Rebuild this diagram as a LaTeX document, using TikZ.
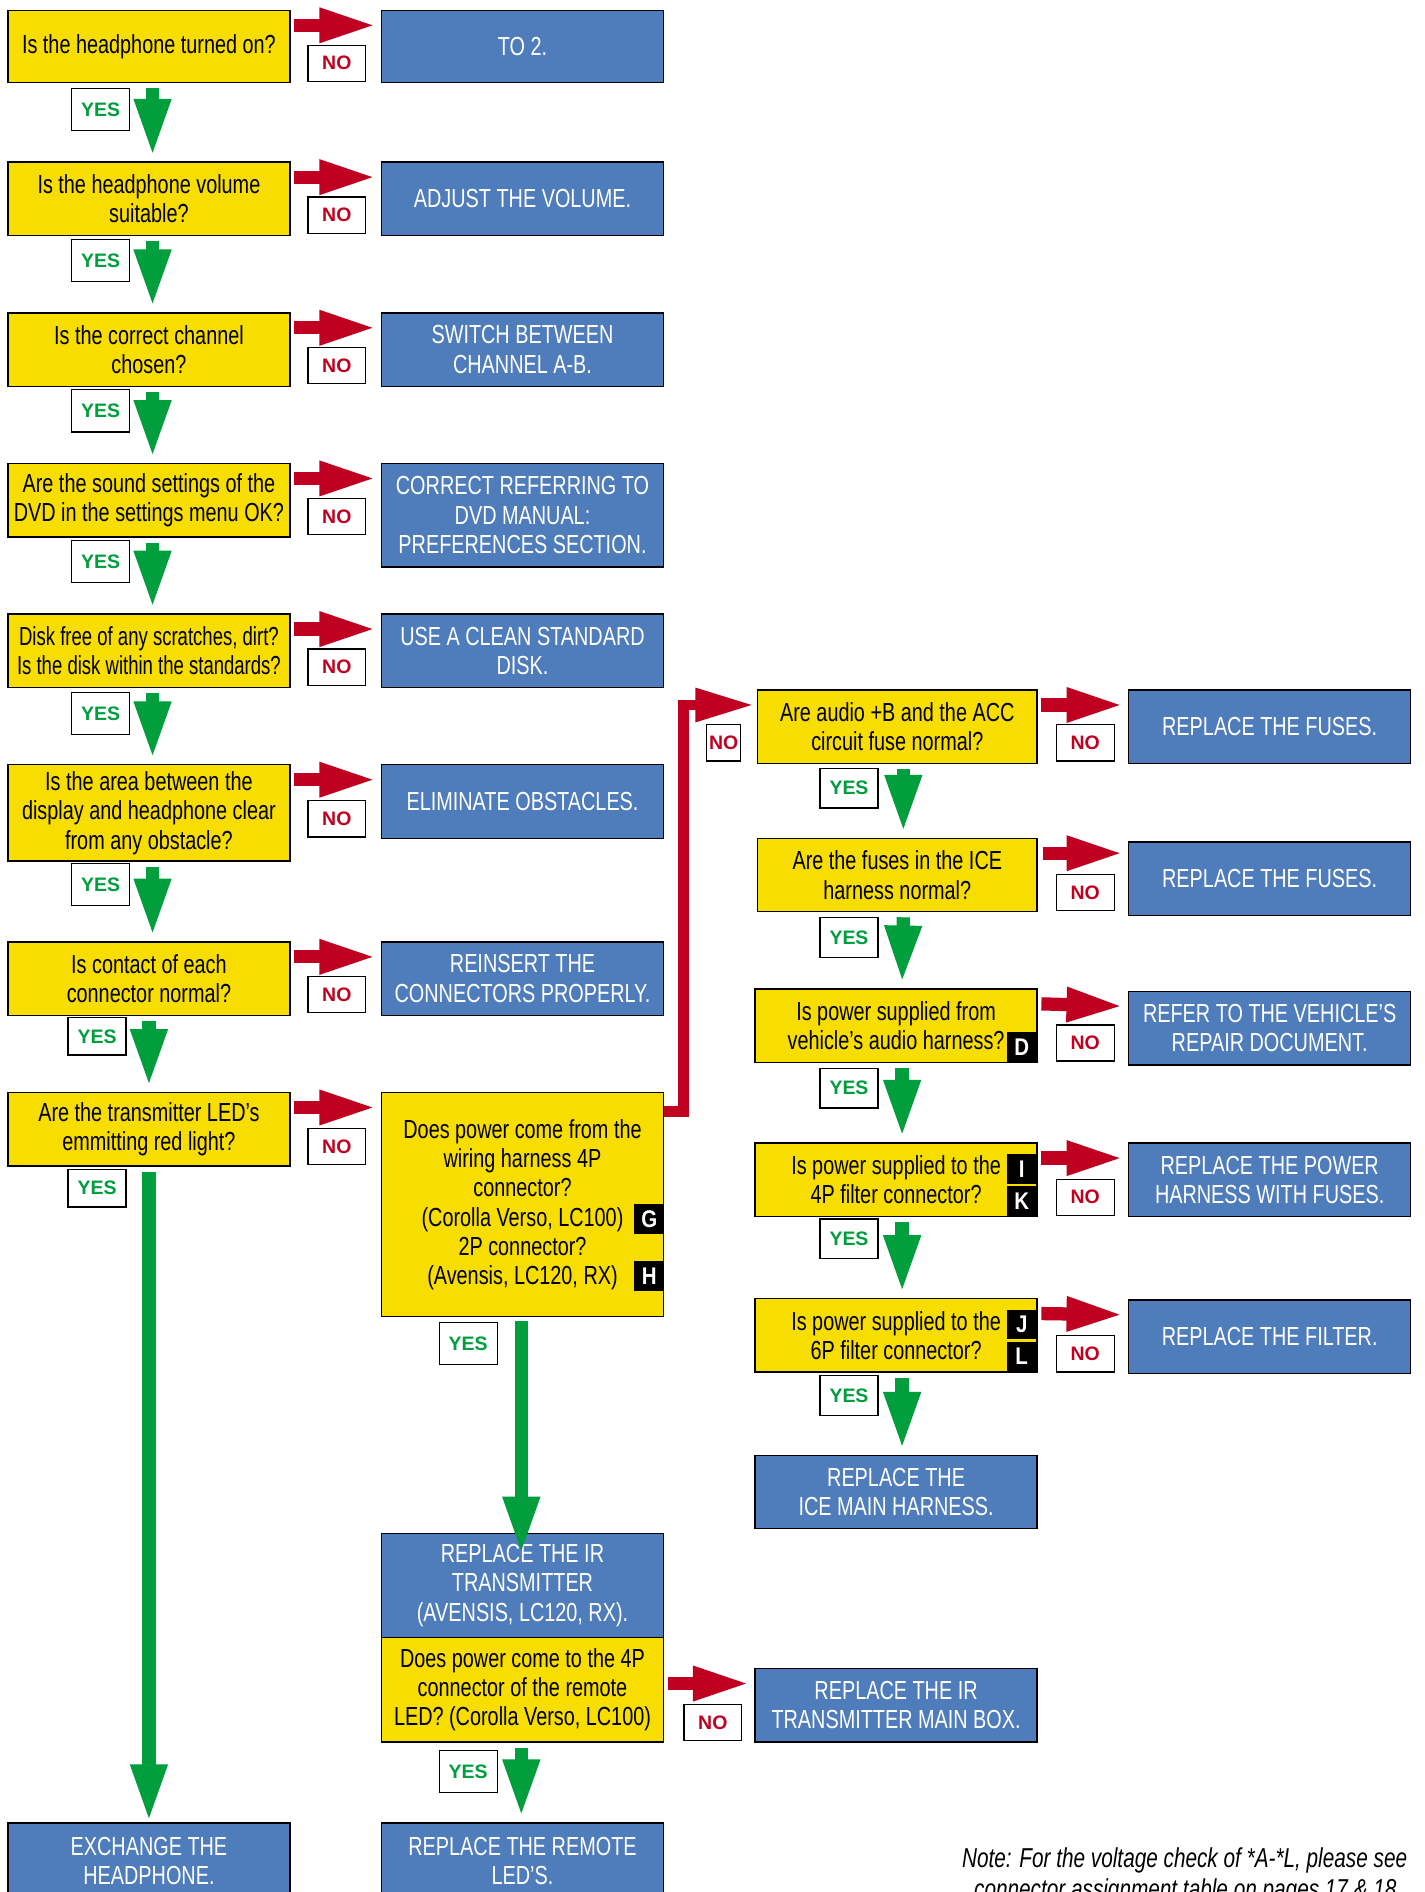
\documentclass[tikz,border=0pt]{standalone}
\usepackage{fontspec}
\setmainfont{Liberation Sans}[FakeStretch=0.76]
\newfontfamily\lblfont{Liberation Sans}
\newfontfamily\bdgfont{Liberation Sans}[FakeStretch=0.85]
\newfontfamily\narrowfont{Liberation Sans}[FakeStretch=0.71]
\usetikzlibrary{arrows.meta}
\definecolor{qyellow}{RGB}{247,221,0}
\definecolor{ablue}{RGB}{79,124,187}
\definecolor{nored}{RGB}{192,0,32}
\definecolor{yesgreen}{RGB}{0,158,61}
\begin{document}
\begin{tikzpicture}[x=0.6pt,y=-0.6pt,
 box/.style={draw=black, line width=0.7pt, inner sep=0pt, anchor=north west, align=center,
   minimum width=140.4pt, font=\fontsize{13}{14.6}\selectfont},
 ybox/.style={box, fill=qyellow, text=black},
 bbox/.style={box, fill=ablue, text=white},
 h60/.style={minimum height=36.6pt},
 nolbl/.style={draw=black, line width=0.6pt, fill=white, inner sep=0pt, anchor=north west,
   minimum width=28.8pt, minimum height=18pt, text=nored, font=\lblfont\bfseries\fontsize{9.7}{11}\selectfont},
 yeslbl/.style={nolbl, minimum height=21pt, text=yesgreen},
 noarr/.style={draw=nored, line width=6.6pt, -{Triangle[length=28.8pt,width=15.6pt]}},
 yesarr/.style={draw=yesgreen, line width=6.6pt, -{Triangle[length=28.8pt,width=16.8pt]}},
 noline/.style={draw=nored, line width=5.4pt, line join=miter, -{Triangle[length=29.4pt,width=15.6pt]}},
 badge/.style={fill=black, text=white, inner sep=0pt, anchor=north west, minimum width=15pt,
   minimum height=15pt, font=\bdgfont\bfseries\fontsize{12}{12}\selectfont},
 notefont/.style={font=\itshape\fontsize{13.6}{14.6}\selectfont}
]
\fill[white] (0,0) rectangle (1182,1570);
\useasboundingbox (0,0) rectangle (1182,1570);

% ---------- left column ----------
\node[ybox, minimum height=36pt] (q1) at (6,8) {Is the headphone turned on?};
\node[ybox, h60] (q2) at (6,134) {Is the headphone volume\\suitable?};
\node[ybox, h60] (q3) at (6,259) {Is the correct channel\\chosen?};
\node[ybox, h60] (q4) at (6,384) {Are the sound settings of the\\DVD in the settings menu OK?};
\node[ybox, h60, font=\narrowfont\fontsize{13}{14.6}\selectfont] (q5) at (6,509) {Disk free of any scratches, dirt?\\Is the disk within the standards?};
\node[ybox, minimum height=48pt] (q6) at (6,634) {Is the area between the\\display and headphone clear\\from any obstacle?};
\node[ybox, h60] (q7) at (6,781) {Is contact of each\\connector normal?};
\node[ybox, h60] (q8) at (6,906) {Are the transmitter LED's\\emmitting red light?};
\node[bbox, minimum height=37.8pt] (e1) at (6,1512) {EXCHANGE THE\\HEADPHONE.};

% ---------- middle column ----------
\node[bbox, minimum height=36pt] (b1) at (316,8) {TO 2.};
\node[bbox, h60] (b2) at (316,134) {ADJUST THE VOLUME.};
\node[bbox, h60] (b3) at (316,259) {SWITCH BETWEEN\\CHANNEL A-B.};
\node[bbox, minimum height=51.6pt] (b4) at (316,384) {CORRECT REFERRING TO\\DVD MANUAL:\\PREFERENCES SECTION.};
\node[bbox, h60] (b5) at (316,509) {USE A CLEAN STANDARD\\DISK.};
\node[bbox, h60] (b6) at (316,634) {ELIMINATE OBSTACLES.};
\node[bbox, h60] (b7) at (316,781) {REINSERT THE\\CONNECTORS PROPERLY.};
\node[ybox, minimum height=111.6pt] (m8) at (316,906) {Does power come from the\\wiring harness 4P\\connector?\\(Corolla Verso, LC100)\hspace{9pt}\\2P connector?\\(Avensis, LC120, RX)\hspace{9pt}};
\node[badge] (bg) at (526,999) {G};
\node[badge] (bh) at (526,1046) {H};
\node[bbox, minimum height=51.6pt] (m9) at (316,1272) {REPLACE THE IR\\TRANSMITTER\\(AVENSIS, LC120, RX).};
\node[ybox, minimum height=52.2pt] (m10) at (316,1358) {Does power come to the 4P\\connector of the remote\\LED? (Corolla Verso, LC100)};
\node[bbox, minimum height=37.8pt] (m11) at (316,1512) {REPLACE THE REMOTE\\LED’S.};
\node[bbox, h60] (n10) at (626,1384) {REPLACE THE IR\\TRANSMITTER MAIN BOX.};

% ---------- right column ----------
\node[ybox, h60, minimum width=139.2pt] (r1) at (628,572) {Are audio +B and the ACC\\circuit fuse normal?};
\node[ybox, h60, minimum width=139.2pt] (r2) at (628,695) {Are the fuses in the ICE\\harness normal?};
\node[ybox, h60] (r3) at (626,820) {Is power supplied from\\vehicle’s audio harness?};
\node[badge] (bd) at (835,856) {D};
\node[ybox, h60] (r4) at (626,948) {Is power supplied to the\\4P filter connector?};
\node[badge, minimum height=14.7pt] (bi) at (835,957.5) {I};
\node[badge, minimum height=14.7pt] (bk) at (835,984) {K};
\node[ybox, h60] (r5) at (626,1077) {Is power supplied to the\\6P filter connector?};
\node[badge, minimum height=14.7pt] (bj) at (835,1086.5) {J};
\node[badge, minimum height=14.7pt] (bl) at (835,1113) {L};
\node[bbox, h60] (r6) at (626,1207) {REPLACE THE\\ICE MAIN HARNESS.};

\node[bbox, h60] (s1) at (936,572) {REPLACE THE FUSES.};
\node[bbox, h60] (s2) at (936,698) {REPLACE THE FUSES.};
\node[bbox, h60] (s3) at (936,822) {REFER TO THE VEHICLE’S\\REPAIR DOCUMENT.};
\node[bbox, h60] (s4) at (936,948) {REPLACE THE POWER\\HARNESS WITH FUSES.};
\node[bbox, h60] (s5) at (936,1078) {REPLACE THE FILTER.};

% ---------- NO labels ----------
\node[nolbl] (n1) at (255,37) {NO};
\node[nolbl] (n2) at (255,163) {NO};
\node[nolbl] (n3) at (255,288) {NO};
\node[nolbl] (n4) at (255,413) {NO};
\node[nolbl] (n5) at (255,538) {NO};
\node[nolbl] (n6) at (255,664) {NO};
\node[nolbl] (n7) at (255,810) {NO};
\node[nolbl] (n8) at (255,936) {NO};
\node[nolbl, minimum width=16.8pt] (nm8) at (586,601) {NO};
\node[nolbl] (nm10) at (567,1414) {NO};
\node[nolbl] (nr1) at (876,601) {NO};
\node[nolbl] (nr2) at (876,725) {NO};
\node[nolbl] (nr3) at (876,850) {NO};
\node[nolbl] (nr4) at (876,978) {NO};
\node[nolbl] (nr5) at (876,1108) {NO};

% ---------- YES labels ----------
\node[yeslbl] (y1) at (59,73) {YES};
\node[yeslbl] (y2) at (59,198) {YES};
\node[yeslbl] (y3) at (59,323) {YES};
\node[yeslbl] (y4) at (59,448) {YES};
\node[yeslbl] (y5) at (59,574) {YES};
\node[yeslbl] (y6) at (59,716) {YES};
\node[yeslbl, minimum height=18.6pt] (y7) at (56,844) {YES};
\node[yeslbl, minimum height=18.6pt] (y8) at (56,970) {YES};
\node[yeslbl] (ym8) at (364,1097) {YES};
\node[yeslbl] (ym10) at (364,1452) {YES};
\node[yeslbl, minimum height=19.8pt] (yr1) at (680,637) {YES};
\node[yeslbl, minimum height=19.8pt] (yr2) at (680,761) {YES};
\node[yeslbl, minimum height=19.8pt] (yr3) at (680,886) {YES};
\node[yeslbl, minimum height=19.8pt] (yr4) at (680,1011) {YES};
\node[yeslbl, minimum height=19.8pt] (yr5) at (680,1141) {YES};

% ---------- NO arrows ----------
\foreach \a/\b in {q1/b1,q2/b2,q3/b3,q4/b4,q5/b5,q6/b6,q7/b7,q8/m8,r1/s1,r3/s3,r4/s4,r5/s5}
  \draw[noarr] ([shift={(3,13)}]\a.north east) -- ([shift={(-3,13)}]\b.north west);
\draw[noarr] ([shift={(4,13)}]r2.north east) -- ([shift={(-3,10)}]s2.north west);
\draw[noarr] ([shift={(3,13)}]m10.east |- n10.north) -- ([shift={(-3,13)}]n10.north west);
\draw[noline] ([shift={(0,16)}]m8.north east) -- ++(16,0) |- ([shift={(-2,13)}]r1.north west);

% ---------- YES arrows ----------
\foreach \a/\b in {q1/q2,q2/q3,q3/q4,q4/q5,q5/q6,q6/q7}
  \draw[yesarr] ([shift={(3,4)}]\a.south) -- ([shift={(3,-4)}]\b.north);
\draw[yesarr] ([shift={(0,4)}]q7.south) -- ([shift={(0,-4)}]q8.north);
\draw[yesarr] ([shift={(0,4)}]q8.south) -- (e1.north);
\draw[yesarr] ([shift={(-1,3)}]m8.south) -- ([shift={(-1,18)}]m9.north);
\draw[yesarr] ([shift={(-1,4)}]m10.south) -- ([shift={(-1,-4)}]m11.north);
\foreach \a/\b in {r1/r2,r2/r3,r3/r4,r4/r5,r5/r6}
  \draw[yesarr] ([shift={(5,4)}]\a.south) -- ([shift={(5,-4)}]\b.north);

% ---------- note ----------
\node[notefont, anchor=base east, inner sep=0pt] (note1) at (1168,1550) {Note: For the voltage check of *A-*L, please see};
\node[notefont, anchor=base east, inner sep=0pt] (note2) at (1164,1575) {connector assignment table on pages 17 \& 18.};
\end{tikzpicture}
\end{document}
